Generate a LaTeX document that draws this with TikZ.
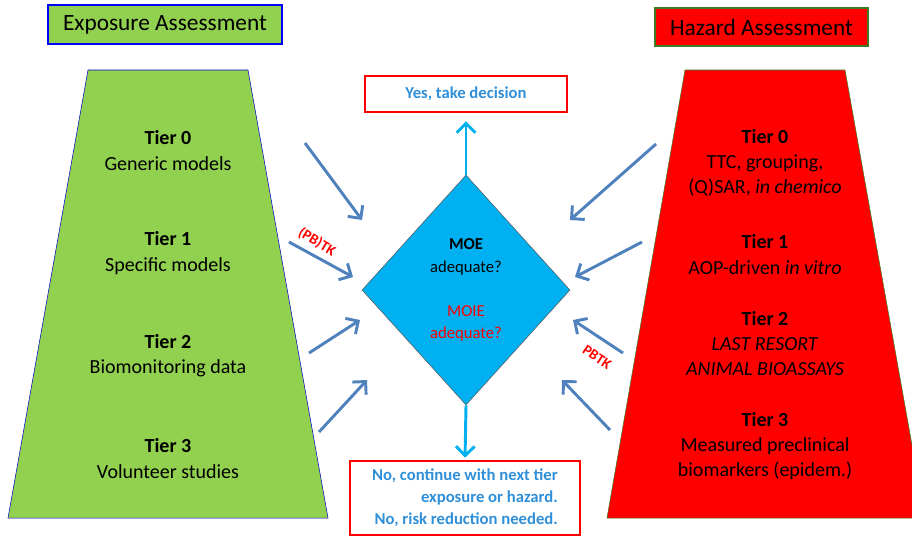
\documentclass[tikz,border=0pt]{standalone}
\usepackage{fontspec}
\setmainfont{Carlito}
\usepackage{xcolor}
\usepackage{tikz}
\usetikzlibrary{arrows.meta, positioning, shapes}

\definecolor{expgreen}{HTML}{92D050}
\definecolor{hazred}{HTML}{FF0000}
\definecolor{decblue}{HTML}{00B0F0}
\definecolor{arrblue}{HTML}{4F81BD}
\definecolor{txtblue}{HTML}{2F8FD8}
\definecolor{hazedge}{HTML}{3A7D22}

\begin{document}
\begin{tikzpicture}[
    x=0.75pt, y=-0.75pt,
    title/.style={draw, line width=1.5pt, font=\fontsize{17.5}{20}\selectfont, minimum height=29pt, inner sep=0pt},
    tier/.style={align=center, font=\fontsize{15}{19}\selectfont},
    answer/.style={draw=red, line width=2pt, text=txtblue, inner sep=0pt, font=\bfseries\fontsize{12.5}{16.5}\selectfont},
    arrow/.style={-{Straight Barb[length=7pt, width=14pt]}, line width=2.2pt, draw=arrblue},
    decarrow/.style={-{Straight Barb[length=7pt, width=14pt]}, line width=2.2pt, draw=decblue},
    tklabel/.style={text=red, font=\bfseries\fontsize{11}{12}\selectfont, inner sep=0pt}
]
    \useasboundingbox (0,0) rectangle (912,537);
    \clip (0,0) rectangle (912,537);

    % headings
    \node[title, draw=blue, fill=expgreen, minimum width=175.5pt] (exphead) at (165,24.5) {Exposure Assessment};
    \node[title, draw=hazedge, fill=hazred, minimum width=160pt] (hazhead) at (761.5,27) {Hazard Assessment};

    % the two tier trapezoids
    \draw[draw=blue!80!black, fill=expgreen] (88,70) -- (248,70) -- (328,518) -- (8,518) -- cycle;
    \draw[draw=hazedge, fill=hazred] (685,70) -- (845,70) -- (925,518) -- (607,518) -- cycle;

    \node[tier] (exp0) at (168,150.5) {\textbf{Tier 0}\\Generic models};
    \node[tier] (exp1) at (168,253) {\textbf{Tier 1}\\Specific models};
    \node[tier] (exp2) at (168,356) {\textbf{Tier 2}\\Biomonitoring data};
    \node[tier] (exp3) at (168,458.5) {\textbf{Tier 3}\\Volunteer studies};

    \node[tier] (haz0) at (765,163) {\textbf{Tier 0}\\TTC, grouping,\\(Q)SAR, \textit{in chemico}};
    \node[tier] (haz1) at (765,254.5) {\textbf{Tier 1}\\AOP-driven \textit{in vitro}};
    \node[tier] (haz2) at (765,343.5) {\textbf{Tier 2}\\\textit{LAST RESORT}\\\textit{ANIMAL BIOASSAYS}};
    \node[tier] (haz3) at (765,446) {\textbf{Tier 3}\\Measured preclinical\\biomarkers (epidem.)};

    % decision
    \node[diamond, draw=gray!70!black, fill=decblue, minimum width=156pt, minimum height=172.5pt, inner sep=0pt,
          align=center, font=\fontsize{12.5}{17}\selectfont] (dec) at (466,290)
          {\textbf{MOE}\\adequate?\\[16pt]\textcolor{red}{MOIE}\\\textcolor{red}{adequate?}};

    \node[answer, minimum width=151.5pt, minimum height=27pt] (yes) at (466,94) {Yes, take decision};
    \node[answer, minimum width=172.5pt, minimum height=55.5pt, align=right] (no) at (465,498)
          {No, continue with next tier\\exposure or hazard.\\No, risk reduction needed.};

    \draw[decarrow, shorten >=6pt] (dec.north) -- (yes.south);
    \draw[decarrow, shorten >=1.5pt] (dec.south) -- (no.north);

    % inputs from exposure side
    \coordinate (e0a) at (305,143); \coordinate (e0b) at (362,220);
    \coordinate (e1a) at (289,242); \coordinate (e1b) at (353,277);
    \coordinate (e2a) at (309,353); \coordinate (e2b) at (360,320);
    \coordinate (e3a) at (319,432); \coordinate (e3b) at (367,380);
    \draw[arrow] (e0a) -- (e0b);
    \draw[arrow] (e1a) -- (e1b);
    \draw[arrow] (e2a) -- (e2b);
    \draw[arrow] (e3a) -- (e3b);
    \node[tklabel, rotate=-31] (pbtk1) at (317,242) {(PB)TK};

    % inputs from hazard side
    \coordinate (h0a) at (656,144); \coordinate (h0b) at (570,220);
    \coordinate (h1a) at (642,242); \coordinate (h1b) at (575,277);
    \coordinate (h2a) at (623,353); \coordinate (h2b) at (573,320);
    \coordinate (h3a) at (610,430); \coordinate (h3b) at (562,380);
    \draw[arrow] (h0a) -- (h0b);
    \draw[arrow] (h1a) -- (h1b);
    \draw[arrow] (h2a) -- (h2b);
    \draw[arrow] (h3a) -- (h3b);
    \node[tklabel, rotate=-34] (pbtk2) at (597,357) {PBTK};
\end{tikzpicture}
\end{document}
